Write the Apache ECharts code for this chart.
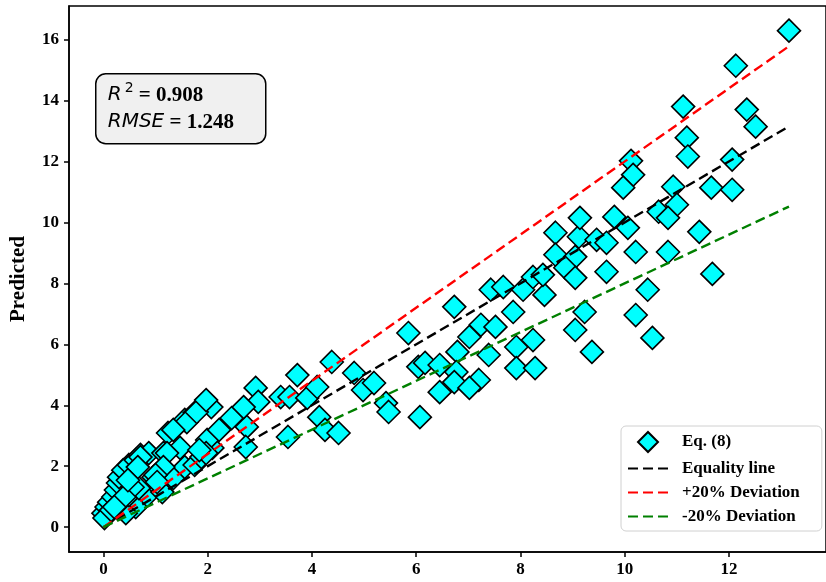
<!DOCTYPE html>
<html>
<head>
<meta charset="utf-8">
<script src="https://cdn.jsdelivr.net/npm/echarts@6/dist/echarts.min.js"></script>
<style>
html, body { margin: 0; padding: 0; background: #fff; }
#chart { width: 826px; height: 582px; }
</style>
</head>
<body>
<div id="chart"></div>
<script>
// measured (x) vs predicted (y) values, Eq. (8)
var actual = [
    0.00, 0.06, 0.11, 0.19, 0.24, 0.28, 0.30, 0.38, 0.49, 0.62, 0.71, 0.87, 0.96, 0.94, 0.81, 0.62, 0.43, 0.02, 0.15, 0.30, 0.49, 0.68,
    1.15, 1.18, 1.13, 1.34, 1.56, 1.75, 1.88, 2.09, 1.99, 1.56, 1.24, 1.75, 2.07, 1.60, 1.34, 1.47, 1.22, 1.15, 1.00, 0.71, 0.66, 1.97, 1.84, 2.22, 2.46, 2.75, 2.73, 2.92, 2.97, 3.40, 3.54, 1.79, 1.97, 2.69, 1.03, 0.56, 0.40, 0.21, 0.47,
    3.72, 3.57, 3.91, 4.10, 4.14, 4.25, 4.51, 4.38, 4.81, 4.98, 5.19, 5.42, 5.47, 5.85, 6.07, 6.04, 6.17, 6.45, 6.45, 6.73, 6.79, 6.77, 6.73, 7.02, 7.24, 7.20, 7.02, 7.39, 7.52, 7.43, 7.67, 8.05, 7.86, 8.46, 8.24, 8.43, 7.92, 8.24, 7.92, 8.28,
    8.67, 9.12, 8.67, 9.05, 8.86, 9.05, 9.23, 9.05, 9.37, 9.14, 9.46, 9.65, 9.80, 10.06, 9.65, 10.21, 10.83, 10.44, 10.21, 10.53,
    10.12, 10.16, 9.97, 10.93, 11.00, 10.65, 10.83, 11.43, 11.66, 12.06, 11.68, 12.06, 11.19, 11.21, 11.12, 12.34, 12.51, 12.13, 13.15
];
var predicted = [
    0.46, 0.66, 0.82, 0.99, 1.22, 1.45, 1.64, 1.87, 2.04, 2.20, 2.37, 2.43, 1.64, 1.28, 0.99, 0.66, 0.46, 0.30, 0.56, 0.79, 1.05, 1.28,
    2.43, 1.45, 1.15, 1.61, 1.97, 2.04, 2.30, 2.60, 2.86, 3.52, 3.09, 3.75, 3.94, 3.45, 3.19, 2.60, 2.43, 1.97, 1.71, 2.30, 1.97, 2.43, 2.53, 3.19, 3.58, 3.29, 2.63, 4.57, 4.11, 4.27, 2.96, 3.78, 4.17, 3.94, 1.48, 1.31, 0.99, 0.66, 1.54,
    4.99, 4.27, 4.24, 4.60, 3.61, 3.19, 3.09, 5.42, 5.06, 4.50, 4.73, 4.07, 3.78, 6.37, 3.61, 5.26, 5.39, 5.32, 4.43, 7.23, 5.75, 5.09, 4.76, 6.24, 6.64, 4.83, 4.57, 5.65, 6.57, 7.79, 7.88, 7.79, 7.06, 7.62, 8.21, 8.28, 5.91, 6.14, 5.22, 5.22,
    9.66, 9.53, 8.94, 8.87, 8.51, 8.18, 7.06, 6.47, 5.75, 10.15, 9.43, 9.33, 10.18, 9.82, 8.38, 9.03, 9.03, 7.79, 6.96, 6.21,
    12.02, 11.56, 11.14, 11.17, 10.58, 10.35, 10.15, 9.69, 11.14, 11.07, 8.31, 12.06, 12.78, 12.16, 13.80, 13.70, 13.14, 15.14, 16.29
];
// reference lines (start and end points)
var lineX = [0, 13.15];
var equalityY = [0, 13.15];
var plus20Y = [0, 15.78];
var minus20Y = [0, 10.52];

var xTicks = [0, 2, 4, 6, 8, 10, 12];
var yTicks = [0, 2, 4, 6, 8, 10, 12, 14, 16];

var serif = '"Liberation Serif", "Times New Roman", serif';

var pairs = function (xs, ys) {
    var out = [];
    xs.forEach(function (x, i) { out.push([x, ys[i]]); });
    return out;
};

var dashLine = function (name, color, ys) {
    return {
        name: name,
        type: 'line',
        data: pairs(lineX, ys),
        symbol: 'none',
        z: 5,
        silent: true,
        lineStyle: { color: color, width: 2.4, type: [10, 5] },
        itemStyle: { color: color }
    };
};

var myChart = echarts.init(document.getElementById('chart'));
var option = {
    animation: false,
    grid: {
        left: 68, top: 6, right: -13, bottom: 30,
        show: true, borderColor: '#000', borderWidth: 1.5, backgroundColor: 'transparent'
    },
    xAxis: {
        type: 'value',
        min: -0.66, max: 13.86,
        splitLine: { show: false },
        axisLine: { show: true, onZero: false, lineStyle: { color: '#000', width: 1.5 } },
        axisTick: { show: true, length: 5, customValues: xTicks, lineStyle: { color: '#000', width: 1.5 } },
        axisLabel: {
            customValues: xTicks, margin: 9,
            fontFamily: serif, fontWeight: 'bold', fontSize: 17, color: '#000'
        }
    },
    yAxis: {
        type: 'value',
        min: -0.815, max: 17.1,
        name: 'Predicted',
        nameLocation: 'middle',
        nameGap: 40,
        nameTextStyle: { fontFamily: serif, fontWeight: 'bold', fontSize: 21, color: '#000' },
        splitLine: { show: false },
        axisLine: { show: true, onZero: false, lineStyle: { color: '#000', width: 1.5 } },
        axisTick: { show: true, length: 5, customValues: yTicks, lineStyle: { color: '#000', width: 1.5 } },
        axisLabel: {
            customValues: yTicks, margin: 10,
            fontFamily: serif, fontWeight: 'bold', fontSize: 17, color: '#000'
        }
    },
    legend: {
        orient: 'vertical',
        left: 621, top: 426,
        itemWidth: 40, itemHeight: 20, itemGap: 7,
        padding: [5, 22, 6, 6],
        backgroundColor: '#fff',
        borderColor: '#d0d0d0', borderWidth: 1, borderRadius: 5,
        textStyle: { fontFamily: serif, fontWeight: 'bold', fontSize: 17, color: '#000', padding: [0, 0, 0, 9] },
        data: [
            'Eq. (8)',
            { name: 'Equality line', itemStyle: { opacity: 0 } },
            { name: '+20% Deviation', itemStyle: { opacity: 0 } },
            { name: '-20% Deviation', itemStyle: { opacity: 0 } }
        ]
    },
    graphic: [{
        type: 'group',
        left: 95, top: 73,
        children: [{
            type: 'rect',
            shape: { x: 0, y: 0, width: 170, height: 70, r: 10 },
            style: { fill: '#f0f0f0', stroke: '#000', lineWidth: 1.5 }
        }, {
            type: 'text',
            x: 12, y: 8,
            style: {
                text: '{i|R}{s|2}{b| = 0.908}\n{i|RMSE}{b| = 1.248}',
                rich: {
                    i: { fontFamily: '"DejaVu Sans"', fontStyle: 'italic', fontSize: 20, lineHeight: 27, fill: '#000' },
                    s: { fontFamily: '"DejaVu Sans"', fontSize: 14, lineHeight: 27, verticalAlign: 'top', padding: [0, 0, 8, 3], fill: '#000' },
                    b: { fontFamily: serif, fontWeight: 'bold', fontSize: 21, lineHeight: 27, fill: '#000' }
                }
            }
        }]
    }],
    series: [{
        name: 'Eq. (8)',
        type: 'scatter',
        data: pairs(actual, predicted),
        symbol: 'path://M0,-1L1,0L0,1L-1,0Z',
        symbolKeepAspect: true,
        symbolSize: 23,
        z: 2,
        itemStyle: { color: '#00ffff', borderColor: '#000', borderWidth: 1.6, opacity: 1 }
    },
        dashLine('Equality line', '#000', equalityY),
        dashLine('+20% Deviation', '#ff0000', plus20Y),
        dashLine('-20% Deviation', '#008000', minus20Y)
    ]
};
myChart.setOption(option);
</script>
</body>
</html>
